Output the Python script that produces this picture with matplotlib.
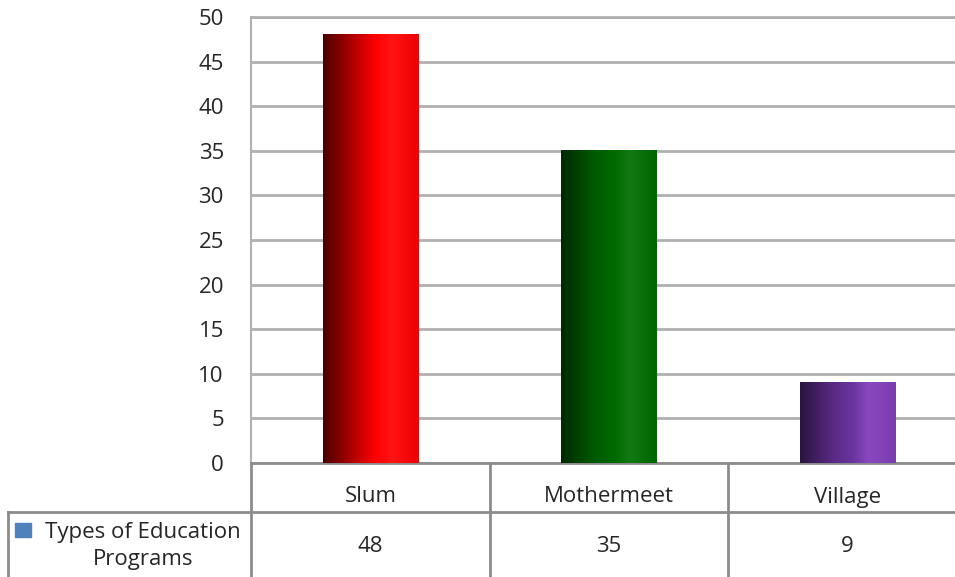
import numpy as np
import matplotlib
matplotlib.use('Agg')
import matplotlib.pyplot as plt
from matplotlib.colors import LinearSegmentedColormap
from matplotlib.lines import Line2D
from matplotlib.patches import Rectangle
import matplotlib.transforms as mtransforms

categories = ['Slum', 'Mothermeet', 'Village']
values = [48, 35, 9]
series_name = 'Types of Education\nPrograms'
yticks = list(range(0, 55, 5))

# left-dark -> bright -> slightly darker at right (cylinder look)
BAR_SHADES = [
    ['#4a0000', '#c00000', '#ff0000', '#ff1414', '#f00000'],
    ['#002a00', '#005a00', '#006a00', '#137a13', '#006400'],
    ['#2a1440', '#5a2a85', '#6a34a0', '#8a48c0', '#7a3cb0'],
]
C_GRID = '#b0b0b0'
C_LINE = '#8c8c8c'
C_TEXT = '#262626'
FONT = 'Open Sans'
FS = 16

fig = plt.figure(figsize=(9.55, 5.77), dpi=100)
fig.patch.set_facecolor('white')
ax = fig.add_axes([251 / 955, 1 - 463 / 577, 716 / 955, 446 / 577])
ax.set_xlim(-0.5, len(categories) - 0.5)
ax.set_ylim(0, 50)

ax.set_yticks(yticks)
ax.set_yticklabels([str(v) for v in yticks], fontsize=FS, color=C_TEXT, family=FONT)
ax.tick_params(axis='y', length=0, pad=19.5)
ax.set_xticks([])
ax.yaxis.grid(True, color=C_GRID, linewidth=2.0)
ax.set_axisbelow(True)
ax.spines['right'].set_visible(False)
ax.spines['left'].set_color(C_GRID)
ax.spines['top'].set_color(C_GRID)
ax.spines['top'].set_linewidth(2)
ax.spines['left'].set_linewidth(1.5)
ax.spines['bottom'].set_color(C_LINE)
ax.spines['bottom'].set_linewidth(2)

bar_w = 0.40
grad = np.linspace(0, 1, 256).reshape(1, -1)
for i, (cat, val) in enumerate(zip(categories, values)):
    cmap = LinearSegmentedColormap.from_list(cat, list(zip([0, 0.35, 0.55, 0.72, 1.0], BAR_SHADES[i])))
    ax.imshow(grad, cmap=cmap, aspect='auto', extent=(i - bar_w / 2, i + bar_w / 2, 0, val),
              zorder=3, interpolation='bilinear')

# data table under the axis
trans = mtransforms.blended_transform_factory(ax.transData, fig.transFigure)
def fy(py):
    return 1 - py / 577

for i, (cat, val) in enumerate(zip(categories, values)):
    ax.text(i, fy(497), cat, transform=trans, ha='center', va='center',
            fontsize=FS, color=C_TEXT, family=FONT)
    ax.text(i, fy(547), str(val), transform=trans, ha='center', va='center',
            fontsize=FS, color=C_TEXT, family=FONT)
for xb in np.arange(-0.5, len(categories), 1.0):
    ax.add_line(Line2D([xb, xb], [fy(463), fy(577)], transform=trans,
                       color=C_LINE, linewidth=2, clip_on=False))

fig.add_artist(Line2D([8 / 955, 1], [fy(512), fy(512)], color=C_LINE, linewidth=2))
fig.add_artist(Line2D([8 / 955, 8 / 955], [fy(512), 0], color=C_LINE, linewidth=2))
fig.add_artist(Rectangle((15 / 955, fy(537)), 16 / 955, 14 / 577, color='#4f81bd',
                         transform=fig.transFigure))
fig.text(143 / 955, fy(546), series_name, ha='center', va='center', fontsize=FS,
         color=C_TEXT, family=FONT, linespacing=1.42)

fig.savefig('out.png', dpi=100)
